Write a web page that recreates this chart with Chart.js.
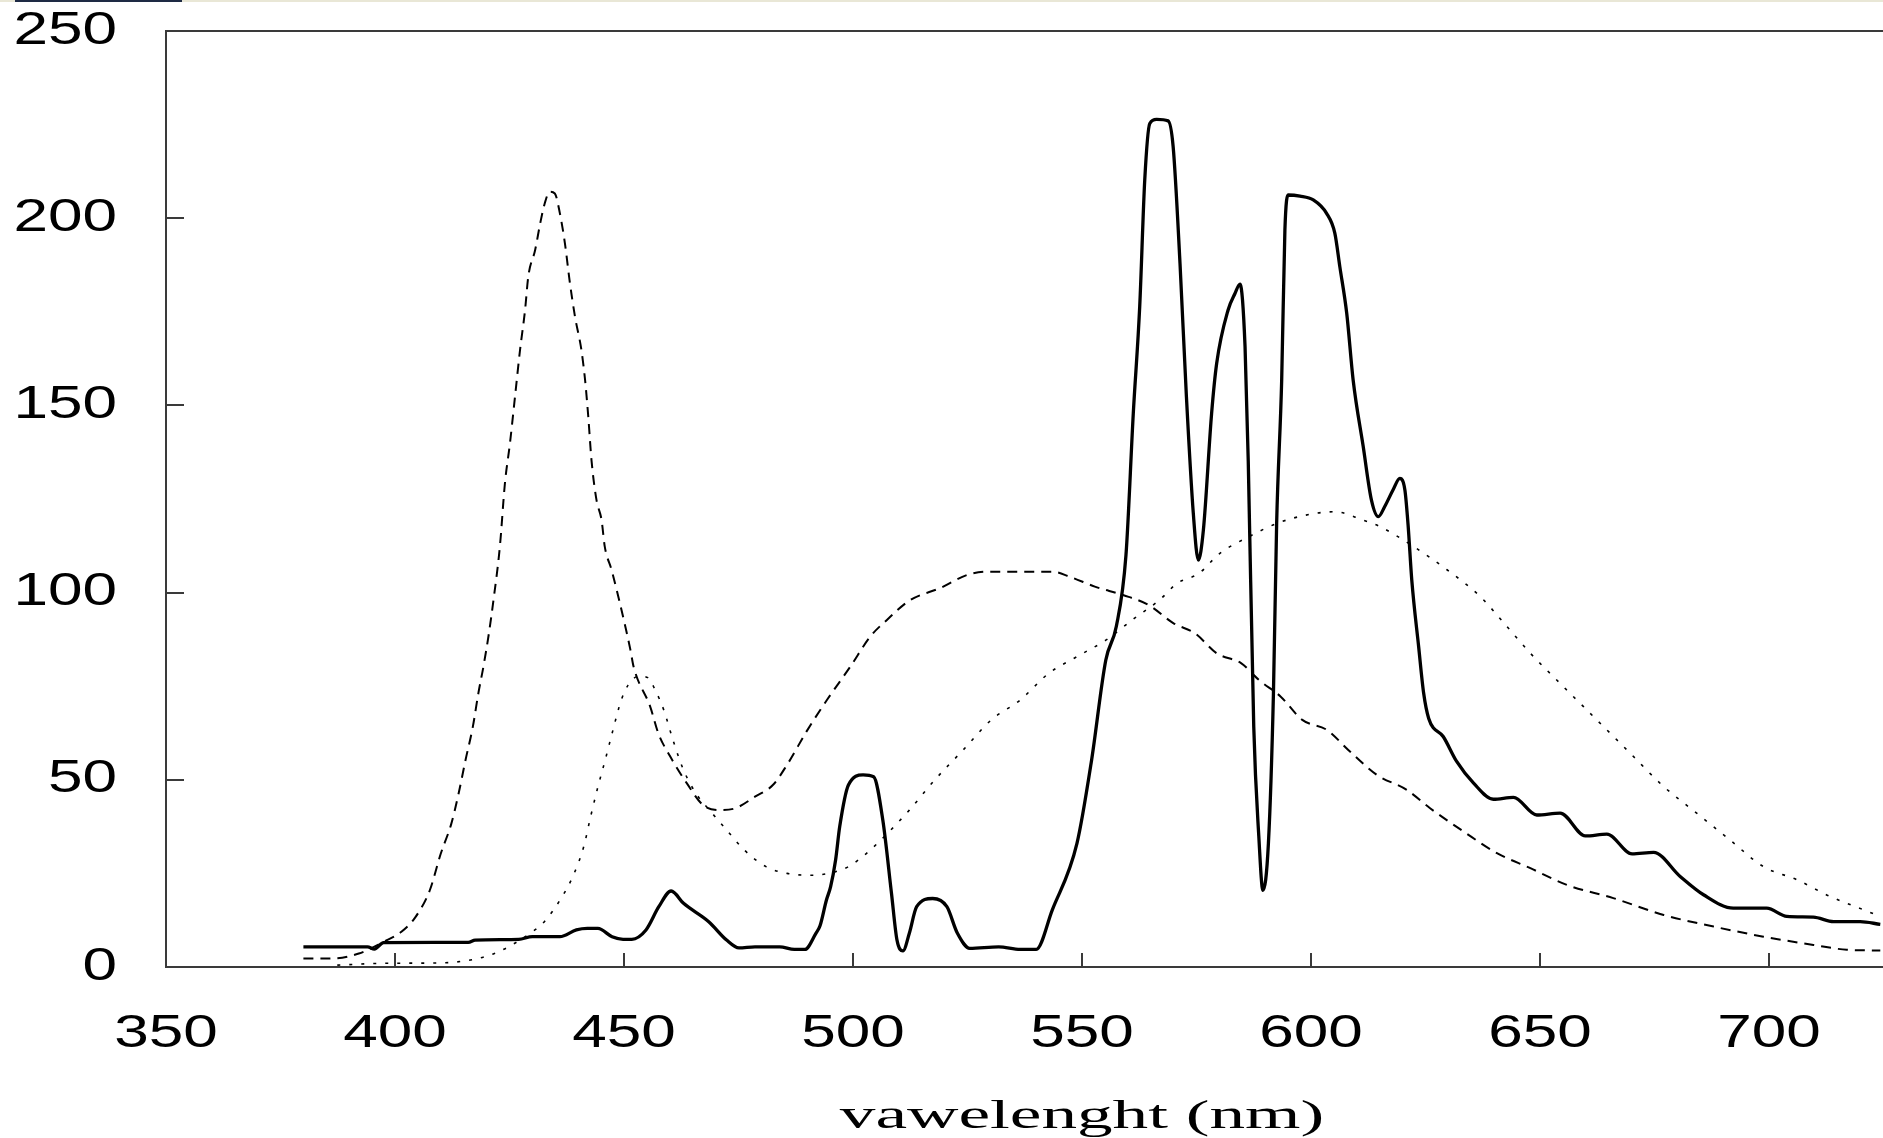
<!DOCTYPE html>
<html>
<head>
<meta charset="utf-8">
<script src="https://cdn.jsdelivr.net/npm/chart.js@4.4.1/dist/chart.umd.min.js"></script>
<style>
html,body{margin:0;padding:0;background:#fff;overflow:hidden}
#wrap{width:1883px;height:1138px;overflow:hidden;position:relative;background:#fff}
canvas{display:block}
</style>
</head>
<body>
<div id="wrap"><canvas id="c" width="1998" height="1138"></canvas></div>
<script>
// ---- tick labels / axis text ----
const xTicks = [350, 400, 450, 500, 550, 600, 650, 700, 750];
const yTicks = [0, 50, 100, 150, 200, 250];
const xTitle = 'vawelenght (nm)';

// ---- solid series (wavelength, value) ----
const solidX = [380,394,395.5,397.5,416,417.5,427,430,436,439.6,442,444.3,447.4,449.8,451.7,454.8,457.6,460.3,463,468.5,472.4,475.1,478.6,484,487.2,489.5,491.9,492.8,494.2,495.1,496.2,497.1,499,502.2,504.5,506.5,508.4,509.6,510.9,512.3,513.9,517.4,520.5,522.8,525.5,531.8,536.5,540,543.5,548.9,552.1,555.2,557.5,559.6,561.2,562.6,563.7,564.8,566.3,568.8,569.9,571.4,572.8,574.3,575.4,576.5,578.3,579.4,581.9,583.4,584.5,585.6,586.3,587.5,588.6,589.5,590.7,591.8,592.5,593.6,594.3,595,597.6,600.5,603.4,605.2,606.3,607.8,609.2,611.4,613.2,614.7,616.1,617.9,619.4,620.5,621.2,622,623.5,624.6,625.7,628.9,631.8,635.5,639.8,644.2,649.3,654.4,659.9,664.6,670.1,674.8,680.6,685.7,692.2,699.5,703.9,709.7,714.1,719.9,724.3];
const solidY = [5.4,5.4,4.8,6.5,6.6,7.2,7.4,8.1,8.1,9.9,10.3,10.3,8.1,7.4,7.4,9.9,16.1,20.3,17,12.1,7.2,5.1,5.4,5.4,4.7,4.7,9,11,17.9,21.4,28.6,37.5,48.6,51.3,50.8,39.3,19.7,7.2,4.3,9,16.1,18.3,16.1,9,5,5.4,4.7,4.7,15.2,33,55.3,82,91,110,147.9,176.4,210.2,225.3,226.4,226,219.1,187.9,152.3,121.2,108.7,116.7,147.9,161.2,175.5,179.9,182.4,165.7,135,64.2,35,20.5,33,73.1,118.5,156.8,196.8,206.2,205.9,204.9,201.3,196,187,174.6,156.8,139,124.7,120.3,123,127.4,130.5,127.4,118,103.4,85.6,73.1,66.4,61.5,54.9,49.1,44.8,45.3,40.6,41.1,35,35.5,30.2,30.6,24.2,19.3,15.7,15.7,13.5,13.3,12.1,12.1,11.4];

// ---- dashed series ----
const dashX = [380,386.6,392.1,397.5,401.4,404.5,407.6,410,412.3,413.9,415.4,417,418.2,419.3,420.5,421.5,422.9,424,425.1,426.2,427.3,428.4,429.1,430.6,431.7,432.7,433.8,434.9,436,437.1,438.2,439.3,440.7,441.5,442.2,442.9,444,445.1,445.8,447.3,450.3,451.4,452.1,455.7,457.5,460.1,463.7,467.3,470.8,474.3,478.6,482.5,485.6,489.9,494.3,499.4,503.8,507.4,512.5,519,524.9,529.5,536.5,543.5,547.4,552.8,559.1,564.5,570,574.7,579.4,584.8,588.7,593.4,598.1,603.5,608.2,614.4,620.9,626,633.3,640.6,647.9,655.9,666,677,687.9,698.8,709.7,717,724.3];
const dashY = [2.3,2.3,3.6,6.7,9.4,13.4,20.5,30.3,38.3,46.4,55.3,64.2,73.1,80.2,89.1,98,112.3,129.2,139.9,152.3,164.8,175.5,184.4,191.5,198.6,204,207.1,206.6,201.3,193.3,182.6,173.7,164.8,156.8,147,135.4,124.7,119.4,112.3,106,90.9,84.7,80.2,69.6,62.4,56.2,49.1,43.2,41.9,42.4,45.5,48.6,54,63,71.3,80.2,88.3,92.7,98,101.2,104.7,105.6,105.6,105.6,104.2,101.6,99.3,96.7,91.8,89.1,83.8,81.1,76.6,72.2,66,63.3,57.9,51.3,47.3,42.4,36.2,30.4,26.4,21.9,18.4,13.9,10.8,8.1,5.9,4.6,4.4];

// ---- dotted series ----
const dotX = [387.4,398.3,410,417,421.7,424.8,429.5,432.6,436.5,438.8,441.2,442.7,444.3,445.9,447.4,449.4,450.9,453.3,455.2,456.8,458.7,460.7,463,465.7,469.3,472.4,476.3,481,485.6,491.1,495.4,499,502.9,506.8,512.3,517.8,524,530.2,536.5,542.7,548.9,555.2,561.4,566.9,570.8,575.5,580.1,586.4,592.6,598.9,605.1,611.3,615.1,622.4,629.7,636.9,642.8,647.9,655.1,662.4,669.7,677,684.2,691.5,698.8,706.1,713.4,720.6,724.3];
const dotY = [0.5,1,1.1,2,3.6,5.4,9,12.1,18.8,24.1,32.1,40.1,48.1,55.3,62.4,71.3,75.3,77.7,77.3,74,68.6,60.6,52.6,46.4,41,36.6,31.2,26.8,25,24.5,25.2,26.8,30.3,34.8,41.9,49.9,57.9,66,71.3,78.4,82.9,87.3,93.1,98,102.5,105.1,110.5,114.9,118.5,120.7,121.6,119.4,117.6,112.3,106.1,99,90.9,83.8,74.9,66,57.1,48.2,41.1,33.9,26.8,23.3,18.8,15.3,13.5];

const toPts = (xs, ys) => xs.map((x, i) => ({x: x, y: ys[i]}));

// text in the original is horizontally stretched
const TICK_STRETCH = 1.35;
const TITLE_STRETCH = 1.78;

const canvas = document.getElementById('c');
const ctx = canvas.getContext('2d');
const nativeFill = ctx.fillText;
ctx.fillText = function (t, x, y) {
  const sx = /Serif/.test(this.font) ? TITLE_STRETCH : TICK_STRETCH;
  this.save();
  this.translate(x, y);
  this.scale(sx, 1);
  nativeFill.call(this, t, 0, 0);
  this.restore();
};

const decor = {
  id: 'decor',
  beforeDraw(chart) {
    const c = chart.ctx;
    c.save();
    c.fillStyle = '#e9e7d6';
    c.fillRect(0, 0, chart.width, 2);
    c.fillStyle = '#1e2a44';
    c.fillRect(15, 0, 167, 2);
    c.restore();
  },
  afterDraw(chart) {
    const c = chart.ctx;
    const a = chart.chartArea;
    const xs = chart.scales.x, ys = chart.scales.y;
    c.save();
    c.strokeStyle = '#3a3a3a';
    c.lineWidth = 2;
    c.beginPath();
    c.moveTo(a.left - 1, a.top);
    c.lineTo(a.right, a.top);
    c.stroke();
    c.beginPath();
    xTicks.forEach(v => {
      if (v <= xs.min || v >= xs.max) return;
      const px = Math.round(xs.getPixelForValue(v));
      c.moveTo(px, a.bottom);
      c.lineTo(px, a.bottom - 14);
    });
    yTicks.forEach(v => {
      if (v <= ys.min || v >= ys.max) return;
      const py = Math.round(ys.getPixelForValue(v));
      c.moveTo(a.left, py);
      c.lineTo(a.left + 18, py);
    });
    c.stroke();
    c.restore();
  }
};

const tickFont = {family: '"Liberation Sans", Arial, sans-serif', size: 46};

new Chart(canvas, {
  type: 'line',
  data: {
    datasets: [
      {data: toPts(dashX, dashY), borderColor: '#000', borderWidth: 2, borderDash: [10, 7], pointRadius: 0, cubicInterpolationMode: 'monotone', fill: false},
      {data: toPts(dotX, dotY), borderColor: '#000', borderWidth: 1.6, borderDash: [3, 9], pointRadius: 0, cubicInterpolationMode: 'monotone', fill: false},
      {data: toPts(solidX, solidY), borderColor: '#000', borderWidth: 3.3, borderJoinStyle: 'round', pointRadius: 0, cubicInterpolationMode: 'monotone', fill: false}
    ]
  },
  options: {
    responsive: false,
    animation: false,
    events: [],
    layout: {padding: {top: 31, left: 0, right: 0, bottom: 0}},
    plugins: {legend: {display: false}, tooltip: {enabled: false}},
    scales: {
      x: {
        type: 'linear',
        min: xTicks[0],
        max: xTicks[xTicks.length - 1],
        afterBuildTicks: s => { s.ticks = xTicks.map(v => ({value: v})); },
        afterFit: s => { s.height = 171; s.paddingLeft = 0; s.paddingRight = 0; },
        grid: {display: false, drawTicks: false},
        border: {display: true, color: '#3a3a3a', width: 2},
        ticks: {font: tickFont, color: '#000', padding: 40, autoSkip: false, maxRotation: 0},
        title: {display: true, text: xTitle, color: '#000', padding: {top: 0, bottom: 5},
                font: {family: '"Liberation Serif", "Times New Roman", serif', size: 40, lineHeight: 0.8}}
      },
      y: {
        min: yTicks[0],
        max: yTicks[yTicks.length - 1],
        afterBuildTicks: s => { s.ticks = yTicks.map(v => ({value: v})); },
        afterFit: s => { s.width = 166; s.paddingTop = 0; s.paddingBottom = 0; },
        grid: {display: false, drawTicks: false},
        border: {display: true, color: '#3a3a3a', width: 2},
        ticks: {font: tickFont, color: '#000', padding: 49}
      }
    }
  },
  plugins: [decor]
});
</script>
</body>
</html>
